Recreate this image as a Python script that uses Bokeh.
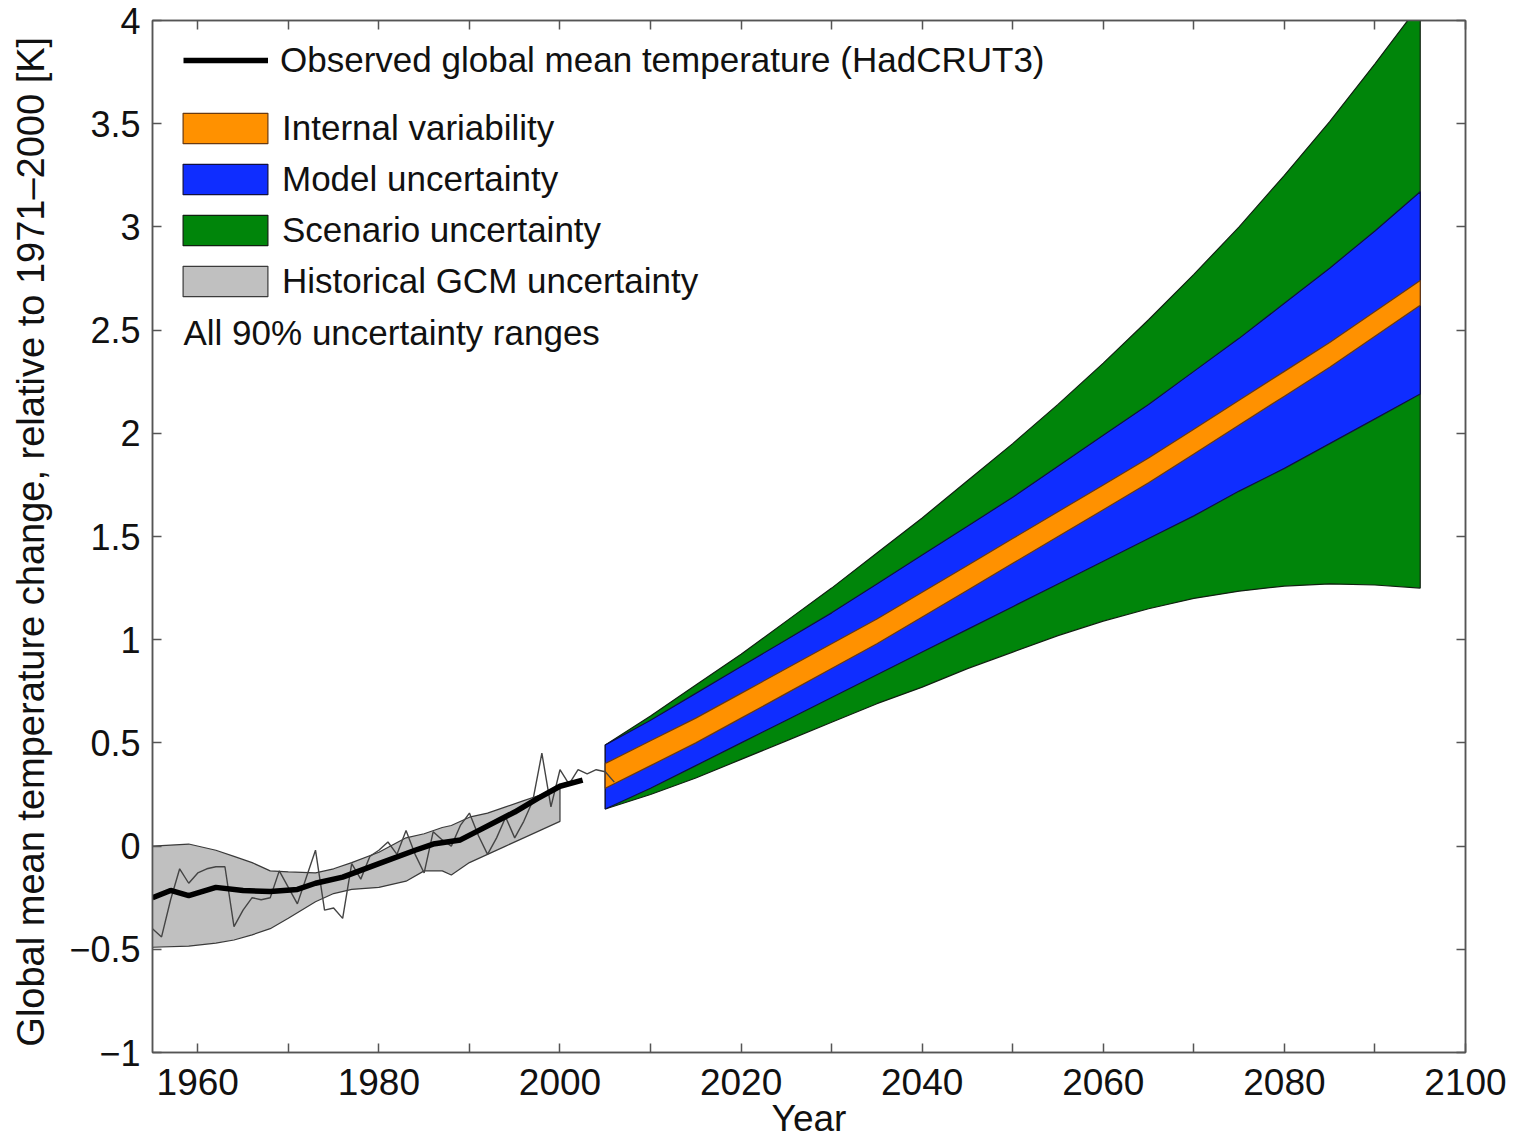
from bokeh.plotting import figure
from bokeh.models import (FixedTicker, LinearAxis, Legend, LegendItem, Label, Range1d)
from bokeh.embed import file_html
from bokeh.resources import INLINE

FONT = "Liberation Sans"

# ---------------- data ----------------
# Historical GCM uncertainty (grey band)
hist_years = [1955, 1959, 1962, 1964, 1966, 1968, 1970, 1973, 1975, 1977, 1980,
              1983, 1985, 1987, 1988, 1990, 1992, 1994, 1996, 1998, 2000]
hist_upper = [0.00, 0.01, -0.02, -0.05, -0.08, -0.12, -0.125, -0.13, -0.11, -0.08, -0.03,
              0.04, 0.06, 0.09, 0.10, 0.14, 0.16, 0.19, 0.22, 0.25, 0.30]
hist_lower = [-0.49, -0.485, -0.47, -0.455, -0.43, -0.40, -0.35, -0.27, -0.23, -0.21, -0.20,
              -0.17, -0.12, -0.12, -0.14, -0.08, -0.04, 0.00, 0.04, 0.08, 0.12]

# Observed annual values (thin line)
annual_years = list(range(1955, 2007))
annual_vals = [-0.40, -0.44, -0.26, -0.11, -0.18, -0.13, -0.11, -0.10, -0.10, -0.39,
               -0.31, -0.25, -0.26, -0.25, -0.12, -0.20, -0.28, -0.15, -0.02, -0.31,
               -0.30, -0.35, -0.085, -0.16, -0.05, -0.02, 0.02, -0.04, 0.075, -0.04,
               -0.13, 0.07, 0.03, 0.00, 0.10, 0.16, 0.05, -0.04, 0.04, 0.14,
               0.04, 0.12, 0.22, 0.45, 0.19, 0.37, 0.30, 0.37, 0.35, 0.37,
               0.36, 0.31]

# Observed smoothed (thick black line)
smooth_years = [1955, 1957, 1959, 1962, 1965, 1968, 1971, 1973, 1976, 1980, 1984,
                1986, 1989, 1991, 1995, 1997.5, 2000, 2002.5]
smooth_vals = [-0.25, -0.215, -0.24, -0.20, -0.215, -0.22, -0.21, -0.18, -0.15, -0.085, -0.02,
               0.01, 0.03, 0.075, 0.165, 0.23, 0.29, 0.32]

# Projections 2005-2095
proj_years = [2005, 2010, 2015, 2020, 2025, 2030, 2035, 2040, 2045, 2050,
              2055, 2060, 2065, 2070, 2075, 2080, 2085, 2090, 2095]
scen_upper = [0.49, 0.63, 0.78, 0.93, 1.09, 1.25, 1.42, 1.59, 1.77, 1.95,
              2.14, 2.34, 2.55, 2.77, 3.00, 3.25, 3.51, 3.79, 4.08]
scen_lower = [0.18, 0.25, 0.33, 0.42, 0.51, 0.60, 0.69, 0.77, 0.86, 0.94,
              1.02, 1.09, 1.15, 1.20, 1.235, 1.26, 1.27, 1.265, 1.25]
model_upper = [0.49, 0.61, 0.74, 0.87, 1.00, 1.13, 1.27, 1.41, 1.55, 1.69,
               1.84, 1.99, 2.14, 2.30, 2.46, 2.63, 2.80, 2.98, 3.17]
model_lower = [0.18, 0.28, 0.39, 0.50, 0.61, 0.72, 0.83, 0.94, 1.05, 1.16,
               1.27, 1.38, 1.49, 1.60, 1.72, 1.83, 1.95, 2.07, 2.19]
intvar_upper = [0.40, 0.51, 0.62, 0.74, 0.86, 0.98, 1.10, 1.23, 1.36, 1.49,
                1.62, 1.75, 1.88, 2.02, 2.16, 2.30, 2.44, 2.59, 2.74]
intvar_lower = [0.28, 0.39, 0.50, 0.62, 0.74, 0.86, 0.98, 1.11, 1.24, 1.37,
                1.50, 1.63, 1.76, 1.90, 2.04, 2.18, 2.32, 2.47, 2.62]

x_ticks = [1960, 1980, 2000, 2020, 2040, 2060, 2080, 2100]
x_minor = [1970, 1990, 2010, 2030, 2050, 2070, 2090]
y_ticks = [-1, -0.5, 0, 0.5, 1, 1.5, 2, 2.5, 3, 3.5, 4]
y_tick_labels = ["\u22121", "\u22120.5", "0", "0.5", "1", "1.5", "2", "2.5", "3", "3.5", "4"]

ORANGE = "#FF9100"
BLUE = "#0F2DFF"
GREEN = "#00850A"
GREY = "#C0C0C0"
FRAME = "#555555"

W, H = 1514, 1141
FL, FR, FT, FB = 152, 49, 20, 89     # borders around the plot frame


def band(years, lower, upper):
    return list(years) + list(years)[::-1], list(upper) + list(lower)[::-1]


# ---------------- figure ----------------
p = figure(width=W, height=H, output_backend="svg", toolbar_location=None,
           x_range=Range1d(1955, 2100), y_range=Range1d(-1, 4),
           min_border_left=FL, min_border_right=FR, min_border_top=FT, min_border_bottom=FB,
           x_axis_location=None, y_axis_location=None)
p.xgrid.visible = False
p.ygrid.visible = False
p.outline_line_color = FRAME
p.outline_line_width = 1.5
p.background_fill_color = "white"
p.border_fill_color = "white"

xt = FixedTicker(ticks=x_ticks, minor_ticks=x_minor)
yt = FixedTicker(ticks=y_ticks, minor_ticks=[])


def style_axis(ax, labels=True):
    ax.axis_line_color = FRAME
    ax.axis_line_width = 1.5
    ax.major_tick_line_color = FRAME
    ax.minor_tick_line_color = FRAME
    ax.major_tick_line_width = 1.5
    ax.minor_tick_line_width = 1.5
    ax.major_tick_in = 9
    ax.major_tick_out = 0
    ax.minor_tick_in = 9
    ax.minor_tick_out = 0
    ax.major_label_text_font = FONT
    ax.major_label_text_color = "#111111"
    ax.axis_label_text_font = FONT
    ax.axis_label_text_font_style = "normal"
    ax.axis_label_text_color = "#111111"
    if not labels:
        ax.major_label_text_color = None
        ax.major_label_text_font_size = "1px"
        ax.major_label_standoff = 0


xb = LinearAxis(ticker=xt, axis_label="Year")
style_axis(xb)
xb.major_label_text_font_size = "37px"
xb.major_label_standoff = 16
xb.axis_label_text_font_size = "37px"
xb.axis_label_standoff = 0
p.add_layout(xb, "below")

yl = LinearAxis(ticker=yt,
                axis_label="Global mean temperature change, relative to 1971\u20132000  [K]")
style_axis(yl)
yl.major_label_overrides = {t: s for t, s in zip(y_ticks, y_tick_labels)}
yl.major_label_text_font_size = "36px"
yl.axis_label_text_font_size = "38px"
yl.major_label_standoff = 12
yl.axis_label_standoff = 14
p.add_layout(yl, "left")

xa = LinearAxis(ticker=xt)
style_axis(xa, labels=False)
p.add_layout(xa, "above")
yr = LinearAxis(ticker=yt)
style_axis(yr, labels=False)
p.add_layout(yr, "right")

# ---------------- glyphs ----------------
hx, hy = band(hist_years, hist_lower, hist_upper)
r_hist = p.patch(hx, hy, fill_color=GREY, line_color="#3a3a3a", line_width=1.2)

sx, sy = band(proj_years, scen_lower, scen_upper)
r_scen = p.patch(sx, sy, fill_color=GREEN, line_color="#102010", line_width=1.2)
mx, my = band(proj_years, model_lower, model_upper)
r_model = p.patch(mx, my, fill_color=BLUE, line_color="#101040", line_width=1.2)
ix, iy = band(proj_years, intvar_lower, intvar_upper)
r_int = p.patch(ix, iy, fill_color=ORANGE, line_color="#6a3a10", line_width=1.2)

p.line(annual_years, annual_vals, line_color="#444444", line_width=1.4)
r_obs = p.line(smooth_years, smooth_vals, line_color="black", line_width=5.5)

# ---------------- legends ----------------
# Legend location = (left, bottom) of the legend box, in pixels from the frame's bottom-left
leg1 = Legend(items=[LegendItem(label="Observed global mean temperature (HadCRUT3)",
                                renderers=[r_obs])],
              location=(31, 972), glyph_width=85, glyph_height=30,
              label_standoff=12, padding=0, margin=0, border_line_color=None,
              background_fill_alpha=0, label_text_font=FONT,
              label_text_font_size="35px", label_text_color="#111111")
p.add_layout(leg1, "center")

leg2 = Legend(items=[LegendItem(label="Internal variability", renderers=[r_int]),
                     LegendItem(label="Model uncertainty", renderers=[r_model]),
                     LegendItem(label="Scenario uncertainty", renderers=[r_scen]),
                     LegendItem(label="Historical GCM uncertainty", renderers=[r_hist])],
              location=(20, 751), glyph_width=106, glyph_height=38, spacing=11,
              label_standoff=4, padding=0, margin=0, border_line_color=None,
              background_fill_alpha=0, label_text_font=FONT,
              label_text_font_size="35px", label_text_color="#111111")
p.add_layout(leg2, "center")

note = Label(x=31, y=720, x_units="screen", y_units="screen",
             text="All 90% uncertainty ranges", text_font=FONT, text_font_size="35px",
             text_baseline="middle", text_color="#111111")
p.add_layout(note)

open("out.html", "w").write(file_html(p, INLINE))
